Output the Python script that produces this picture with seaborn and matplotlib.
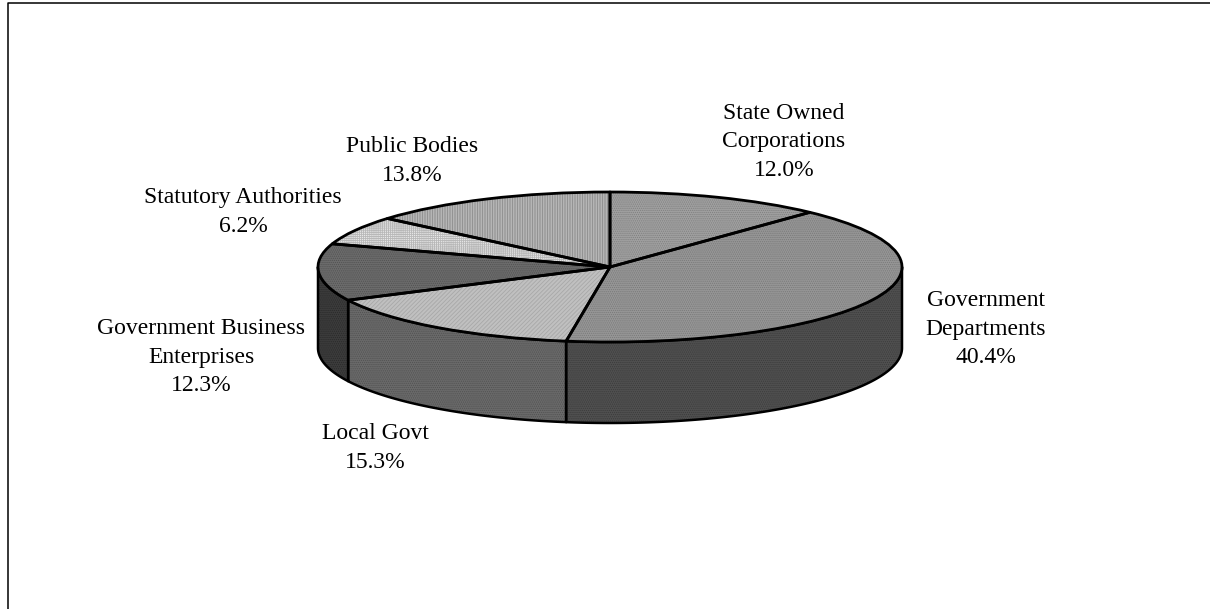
import numpy as np
import matplotlib
matplotlib.use("Agg")
import matplotlib.pyplot as plt
from matplotlib.lines import Line2D
import seaborn as sns

names = ["State Owned\nCorporations", "Government\nDepartments", "Local Govt",
         "Government Business\nEnterprises", "Statutory Authorities", "Public Bodies"]
shares = [12.0, 40.4, 15.3, 12.3, 6.2, 13.8]

top_base = ["#a0a0a0", "#969696", "#c0c0c0", "#6c6c6c", "#e8e8e8", "#c4c4c4"]
top_hatch_col = ["#808080", "#7a7a7a", "#a8a8a8", "#525252", "#b8b8b8", "#8a8a8a"]
top_hatch = ["........", "........", "////////", "........", "++++++++", "||||||||||"]
side_base = {1: "#505050", 2: "#6a6a6a", 3: "#3c3c3c"}
side_hatch_col = {1: "#3c3c3c", 2: "#525252", 3: "#2a2a2a"}

# pixel anchors of label blocks (centre)
label_px = [(784, 142), (986, 329), (375, 448), (201, 357), (243, 212), (412, 161)]

W, H = 1210, 609
CX, CY, RX, RY, DEPTH = 610, 267, 292, 75, 81

sns.set_theme(style="white", rc={"hatch.linewidth": 0.6})
plt.rcParams["font.family"] = ["Liberation Serif", "DejaVu Serif"]

fig = plt.figure(figsize=(W / 100, H / 100), dpi=100, facecolor="white")
ax = fig.add_axes([0, 0, 1, 1])
palette = sns.color_palette(top_base)

# side walls, from the same cumulative shares
depth = DEPTH / RY
edges = np.cumsum([0] + shares) * 3.6
for i, (a, b) in enumerate(zip(edges[:-1], edges[1:])):
    lo, hi = max(a, 90), min(b, 270)
    if lo >= hi:
        continue
    th = np.radians(np.linspace(lo, hi, 120))
    x, y = np.sin(th), np.cos(th)
    ax.fill_between(x, y, y - depth, facecolor=side_base[i], hatch="........",
                    edgecolor=side_hatch_col[i], linewidth=0, zorder=1)
    ax.fill_between(x, y, y - depth, facecolor="none", edgecolor="black",
                    linewidth=1.8, zorder=2)

# filled top
wedges, _ = ax.pie(shares, colors=palette, startangle=90, counterclock=False, radius=1)
for w, hc, h in zip(wedges, top_hatch_col, top_hatch):
    w.set_edgecolor(hc)
    w.set_linewidth(0)
    w.set_hatch(h)
    w.set_zorder(3)

# outlines of top
outl, _ = ax.pie(shares, colors=["none"] * len(shares), startangle=90, counterclock=False,
                 radius=1, wedgeprops={"edgecolor": "black", "linewidth": 2.0, "joinstyle": "round"})
for w in outl:
    w.set_zorder(4)

ax.set_aspect("auto")
ax.set_xlim(-CX / RX, (W - CX) / RX)
ax.set_ylim(-(H - CY) / RY, CY / RY)
ax.axis("off")

for name, val, (px, py) in zip(names, shares, label_px):
    fig.text(px / W, 1 - py / H, f"{name}\n{val:.1f}%", ha="center", va="center",
             fontsize=17, color="black", linespacing=1.44)

fig.add_artist(Line2D([8 / W, 8 / W, 1], [0, 1 - 3 / H, 1 - 3 / H], color="black", lw=1.1))

fig.savefig("out.png", dpi=100, facecolor="white")
